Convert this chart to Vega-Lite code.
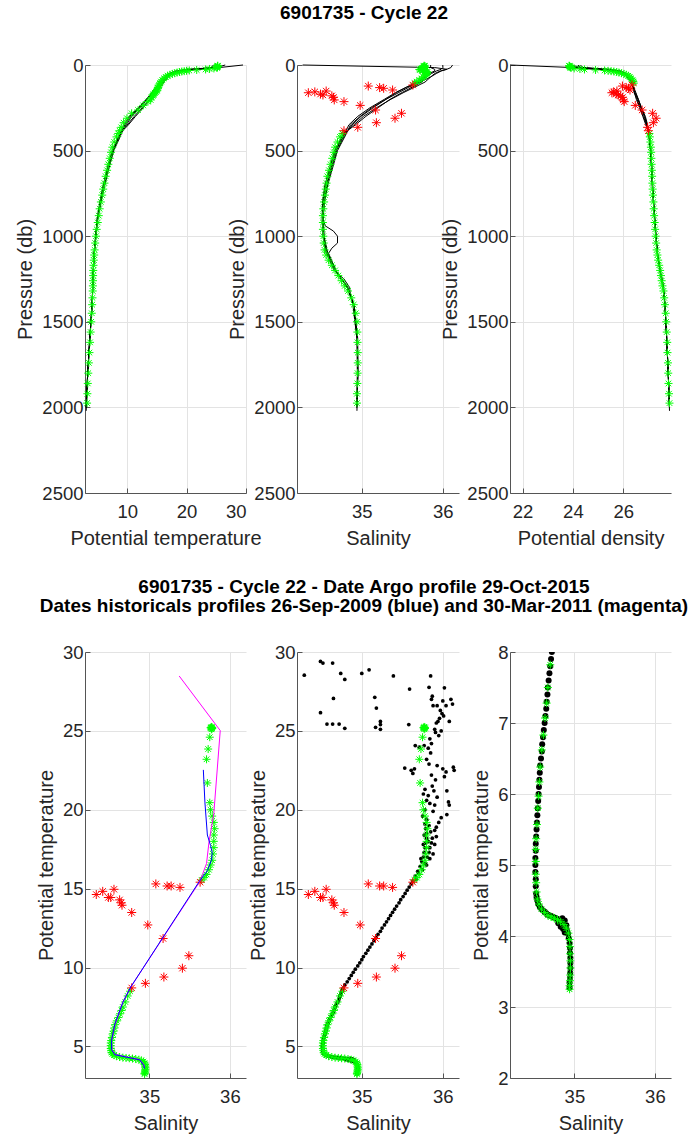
{
"$schema": "https://vega.github.io/schema/vega-lite/v6.json",
"background": "white",
"padding": {"left": 15, "top": 4, "right": 0, "bottom": 2},
"config": {
  "font": "Liberation Sans",
  "view": {"stroke": null},
  "axis": {"grid": true, "gridColor": "#e3e3e3", "domainColor": "#555555", "tickColor": "#555555", "labelColor": "#262626", "titleColor": "#262626", "labelFontSize": 18.5, "titleFontSize": 20, "titleFontWeight": "normal", "tickSize": -5, "labelPadding": 7, "titlePadding": 6, "labelFont": "Liberation Sans", "titleFont": "Liberation Sans"},
  "axisX": {"labelPadding": 14, "titlePadding": 8},
  "title": {"fontSize": 19, "font": "Liberation Sans", "fontWeight": "bold", "color": "black", "lineHeight": 19, "anchor": "middle"}
},
"datasets": {
  "argo": [
    {"p":4,"T":25.25,"S":35.77,"sig":23.85,"qc":"good"},
    {"p":6,"T":25.22,"S":35.78,"sig":23.86,"qc":"good"},
    {"p":8,"T":25.2,"S":35.77,"sig":23.87,"qc":"good"},
    {"p":10,"T":25.2,"S":35.76,"sig":23.88,"qc":"good"},
    {"p":12,"T":25.18,"S":35.77,"sig":23.9,"qc":"good"},
    {"p":14,"T":25.15,"S":35.78,"sig":23.9,"qc":"good"},
    {"p":16,"T":25.1,"S":35.77,"sig":23.93,"qc":"good"},
    {"p":20,"T":24.6,"S":35.75,"sig":24.05,"qc":"good"},
    {"p":23,"T":23.85,"S":35.73,"sig":24.28,"qc":"good"},
    {"p":26,"T":23.2,"S":35.71,"sig":24.46,"qc":"good"},
    {"p":29,"T":21.7,"S":35.72,"sig":24.9,"qc":"good"},
    {"p":32,"T":20.45,"S":35.75,"sig":25.26,"qc":"good"},
    {"p":34,"T":20.0,"S":35.76,"sig":25.4,"qc":"good"},
    {"p":36,"T":19.6,"S":35.78,"sig":25.52,"qc":"good"},
    {"p":38,"T":19.2,"S":35.8,"sig":25.63,"qc":"good"},
    {"p":41,"T":18.8,"S":35.81,"sig":25.74,"qc":"good"},
    {"p":44,"T":18.4,"S":35.8,"sig":25.83,"qc":"good"},
    {"p":48,"T":18.0,"S":35.8,"sig":25.93,"qc":"good"},
    {"p":52,"T":17.6,"S":35.8,"sig":26.03,"qc":"good"},
    {"p":57,"T":17.2,"S":35.79,"sig":26.12,"qc":"good"},
    {"p":63,"T":16.8,"S":35.78,"sig":26.2,"qc":"good"},
    {"p":70,"T":16.5,"S":35.76,"sig":26.26,"qc":"good"},
    {"p":78,"T":16.2,"S":35.74,"sig":26.32,"qc":"good"},
    {"p":88,"T":15.9,"S":35.71,"sig":26.37,"qc":"good"},
    {"p":97,"T":15.7,"S":35.68,"sig":26.4,"qc":"good"},
    {"p":106,"T":15.55,"S":35.65,"sig":26.42,"qc":"good"},
    {"p":117,"T":15.41,"S":35.63,"sig":26.35,"qc":"bad"},
    {"p":123,"T":15.3,"S":35.08,"sig":25.97,"qc":"bad"},
    {"p":132,"T":15.17,"S":35.22,"sig":26.12,"qc":"bad"},
    {"p":136,"T":15.17,"S":35.27,"sig":26.21,"qc":"bad"},
    {"p":146,"T":15.08,"S":35.38,"sig":26.27,"qc":"bad"},
    {"p":152,"T":14.96,"S":34.56,"sig":25.75,"qc":"bad"},
    {"p":157,"T":14.83,"S":34.42,"sig":25.62,"qc":"bad"},
    {"p":162,"T":14.63,"S":34.34,"sig":25.55,"qc":"bad"},
    {"p":170,"T":14.44,"S":34.49,"sig":25.72,"qc":"bad"},
    {"p":175,"T":14.44,"S":34.52,"sig":25.8,"qc":"bad"},
    {"p":180,"T":14.29,"S":34.63,"sig":25.9,"qc":"bad"},
    {"p":189,"T":14.1,"S":34.65,"sig":25.97,"qc":"bad"},
    {"p":204,"T":13.95,"S":34.66,"sig":26.0,"qc":"bad"},
    {"p":214,"T":13.49,"S":34.78,"sig":26.04,"qc":"bad"},
    {"p":236,"T":12.7,"S":34.98,"sig":26.48,"qc":"bad"},
    {"p":263,"T":11.84,"S":35.17,"sig":26.75,"qc":"bad"},
    {"p":282,"T":10.75,"S":35.49,"sig":27.17,"qc":"bad"},
    {"p":311,"T":9.96,"S":35.41,"sig":27.31,"qc":"bad"},
    {"p":337,"T":9.4,"S":35.18,"sig":27.2,"qc":"bad"},
    {"p":364,"T":9.0,"S":34.95,"sig":26.97,"qc":"bad"},
    {"p":384,"T":8.71,"S":34.78,"sig":27.0,"qc":"bad"},
    {"p":400,"T":8.5,"S":34.76,"sig":27.04,"qc":"good"},
    {"p":420,"T":8.2,"S":34.73,"sig":27.06,"qc":"good"},
    {"p":450,"T":7.82,"S":34.7,"sig":27.08,"qc":"good"},
    {"p":480,"T":7.5,"S":34.67,"sig":27.1,"qc":"good"},
    {"p":510,"T":7.28,"S":34.655,"sig":27.11,"qc":"good"},
    {"p":545,"T":7.07,"S":34.635,"sig":27.12,"qc":"good"},
    {"p":580,"T":6.83,"S":34.615,"sig":27.13,"qc":"good"},
    {"p":615,"T":6.62,"S":34.595,"sig":27.14,"qc":"good"},
    {"p":650,"T":6.38,"S":34.575,"sig":27.15,"qc":"good"},
    {"p":690,"T":6.17,"S":34.565,"sig":27.16,"qc":"good"},
    {"p":725,"T":5.97,"S":34.555,"sig":27.17,"qc":"good"},
    {"p":760,"T":5.8,"S":34.545,"sig":27.18,"qc":"good"},
    {"p":800,"T":5.57,"S":34.535,"sig":27.2,"qc":"good"},
    {"p":840,"T":5.37,"S":34.525,"sig":27.21,"qc":"good"},
    {"p":880,"T":5.22,"S":34.52,"sig":27.23,"qc":"good"},
    {"p":920,"T":5.05,"S":34.52,"sig":27.25,"qc":"good"},
    {"p":960,"T":4.87,"S":34.52,"sig":27.27,"qc":"good"},
    {"p":1000,"T":4.75,"S":34.525,"sig":27.29,"qc":"good"},
    {"p":1040,"T":4.62,"S":34.53,"sig":27.31,"qc":"good"},
    {"p":1080,"T":4.52,"S":34.54,"sig":27.33,"qc":"good"},
    {"p":1110,"T":4.45,"S":34.56,"sig":27.36,"qc":"good"},
    {"p":1140,"T":4.38,"S":34.59,"sig":27.39,"qc":"good"},
    {"p":1170,"T":4.33,"S":34.63,"sig":27.43,"qc":"good"},
    {"p":1200,"T":4.29,"S":34.67,"sig":27.47,"qc":"good"},
    {"p":1230,"T":4.27,"S":34.71,"sig":27.5,"qc":"good"},
    {"p":1260,"T":4.25,"S":34.75,"sig":27.53,"qc":"good"},
    {"p":1290,"T":4.23,"S":34.79,"sig":27.56,"qc":"good"},
    {"p":1320,"T":4.2,"S":34.83,"sig":27.6,"qc":"good"},
    {"p":1360,"T":4.16,"S":34.87,"sig":27.63,"qc":"good"},
    {"p":1400,"T":4.11,"S":34.9,"sig":27.66,"qc":"good"},
    {"p":1450,"T":4.04,"S":34.925,"sig":27.69,"qc":"good"},
    {"p":1500,"T":3.95,"S":34.94,"sig":27.71,"qc":"good"},
    {"p":1560,"T":3.85,"S":34.945,"sig":27.73,"qc":"good"},
    {"p":1620,"T":3.75,"S":34.947,"sig":27.75,"qc":"good"},
    {"p":1680,"T":3.65,"S":34.95,"sig":27.76,"qc":"good"},
    {"p":1740,"T":3.55,"S":34.95,"sig":27.78,"qc":"good"},
    {"p":1800,"T":3.45,"S":34.948,"sig":27.79,"qc":"good"},
    {"p":1860,"T":3.37,"S":34.945,"sig":27.8,"qc":"good"},
    {"p":1920,"T":3.3,"S":34.94,"sig":27.82,"qc":"good"},
    {"p":1975,"T":3.25,"S":34.94,"sig":27.84,"qc":"good"}
  ],
  "hp": [
    {"id":"h1","p":0,"T":29.5,"S":34.27,"sig":21.5},{"id":"h1","p":15,"T":25.5,"S":35.9,"sig":24.0},{"id":"h1","p":25,"T":22.0,"S":36.05,"sig":25.0},{"id":"h1","p":35,"T":19.0,"S":35.98,"sig":25.7},{"id":"h1","p":50,"T":17.5,"S":35.92,"sig":26.05},{"id":"h1","p":70,"T":16.6,"S":35.85,"sig":26.22},{"id":"h1","p":100,"T":15.8,"S":35.72,"sig":26.33},{"id":"h1","p":130,"T":15.0,"S":35.55,"sig":26.4},{"id":"h1","p":160,"T":14.3,"S":35.43,"sig":26.48},{"id":"h1","p":200,"T":13.3,"S":35.3,"sig":26.6},{"id":"h1","p":250,"T":12.0,"S":35.12,"sig":26.72},{"id":"h1","p":300,"T":10.6,"S":34.98,"sig":26.86},{"id":"h1","p":350,"T":9.6,"S":34.86,"sig":26.95},
    {"id":"h1","p":400,"T":9.05,"S":34.81,"sig":27.01},{"id":"h1","p":500,"T":7.75,"S":34.7,"sig":27.08},{"id":"h1","p":600,"T":6.95,"S":34.64,"sig":27.12},{"id":"h1","p":700,"T":6.25,"S":34.58,"sig":27.15},{"id":"h1","p":800,"T":5.6,"S":34.54,"sig":27.2},{"id":"h1","p":900,"T":5.05,"S":34.52,"sig":27.25},{"id":"h1","p":1000,"T":4.72,"S":34.53,"sig":27.3},{"id":"h1","p":1100,"T":4.46,"S":34.58,"sig":27.37},{"id":"h1","p":1200,"T":4.31,"S":34.68,"sig":27.47},{"id":"h1","p":1300,"T":4.2,"S":34.83,"sig":27.6},{"id":"h1","p":1400,"T":4.1,"S":34.9,"sig":27.66},{"id":"h1","p":1600,"T":3.72,"S":34.945,"sig":27.73},{"id":"h1","p":1800,"T":3.36,"S":34.95,"sig":27.79},{"id":"h1","p":2000,"T":3.12,"S":34.94,"sig":27.84},
    {"id":"h2","p":0,"T":26.5,"S":36.12,"sig":23.9},{"id":"h2","p":15,"T":25.0,"S":36.1,"sig":24.35},{"id":"h2","p":25,"T":21.0,"S":36.05,"sig":25.3},{"id":"h2","p":35,"T":18.8,"S":35.97,"sig":25.8},{"id":"h2","p":50,"T":17.4,"S":35.9,"sig":26.06},{"id":"h2","p":70,"T":16.7,"S":35.85,"sig":26.2},{"id":"h2","p":100,"T":16.0,"S":35.78,"sig":26.33},{"id":"h2","p":130,"T":15.4,"S":35.65,"sig":26.4},{"id":"h2","p":160,"T":14.8,"S":35.52,"sig":26.43},{"id":"h2","p":200,"T":13.8,"S":35.36,"sig":26.55},{"id":"h2","p":250,"T":12.5,"S":35.18,"sig":26.67},{"id":"h2","p":300,"T":11.2,"S":35.02,"sig":26.8},{"id":"h2","p":350,"T":10.0,"S":34.9,"sig":26.93},
    {"id":"h2","p":400,"T":8.8,"S":34.78,"sig":27.03},{"id":"h2","p":500,"T":7.5,"S":34.67,"sig":27.1},{"id":"h2","p":600,"T":6.7,"S":34.61,"sig":27.14},{"id":"h2","p":700,"T":6.0,"S":34.55,"sig":27.17},{"id":"h2","p":800,"T":5.45,"S":34.52,"sig":27.21},{"id":"h2","p":900,"T":4.95,"S":34.52,"sig":27.26},{"id":"h2","p":940,"T":4.87,"S":34.55,"sig":27.27},{"id":"h2","p":970,"T":4.82,"S":34.65,"sig":27.29},{"id":"h2","p":1000,"T":4.76,"S":34.7,"sig":27.3},{"id":"h2","p":1040,"T":4.64,"S":34.7,"sig":27.32},{"id":"h2","p":1070,"T":4.53,"S":34.63,"sig":27.34},{"id":"h2","p":1100,"T":4.44,"S":34.59,"sig":27.36},{"id":"h2","p":1200,"T":4.28,"S":34.68,"sig":27.46},{"id":"h2","p":1300,"T":4.19,"S":34.82,"sig":27.59},{"id":"h2","p":1400,"T":4.09,"S":34.9,"sig":27.66},{"id":"h2","p":1600,"T":3.7,"S":34.945,"sig":27.73},{"id":"h2","p":1800,"T":3.35,"S":34.95,"sig":27.79},{"id":"h2","p":2000,"T":3.1,"S":34.94,"sig":27.84},
    {"id":"h3","p":0,"T":25.5,"S":36.0,"sig":24.2},{"id":"h3","p":15,"T":25.0,"S":36.0,"sig":24.3},{"id":"h3","p":25,"T":20.0,"S":35.98,"sig":25.5},{"id":"h3","p":35,"T":18.2,"S":35.92,"sig":25.9},{"id":"h3","p":50,"T":17.0,"S":35.86,"sig":26.12},{"id":"h3","p":70,"T":16.3,"S":35.8,"sig":26.25},{"id":"h3","p":100,"T":15.6,"S":35.68,"sig":26.35},{"id":"h3","p":130,"T":14.9,"S":35.55,"sig":26.42},{"id":"h3","p":160,"T":14.2,"S":35.42,"sig":26.5},{"id":"h3","p":200,"T":13.2,"S":35.28,"sig":26.6},{"id":"h3","p":250,"T":11.9,"S":35.1,"sig":26.73},{"id":"h3","p":300,"T":10.4,"S":34.95,"sig":26.88},{"id":"h3","p":350,"T":9.4,"S":34.84,"sig":26.97},
    {"id":"h3","p":400,"T":8.9,"S":34.79,"sig":27.02},{"id":"h3","p":500,"T":7.6,"S":34.68,"sig":27.09},{"id":"h3","p":600,"T":6.8,"S":34.62,"sig":27.13},{"id":"h3","p":700,"T":6.1,"S":34.56,"sig":27.16},{"id":"h3","p":800,"T":5.5,"S":34.53,"sig":27.2},{"id":"h3","p":900,"T":5.0,"S":34.52,"sig":27.25},{"id":"h3","p":1000,"T":4.7,"S":34.53,"sig":27.3},{"id":"h3","p":1100,"T":4.45,"S":34.57,"sig":27.36},{"id":"h3","p":1200,"T":4.3,"S":34.67,"sig":27.46},{"id":"h3","p":1300,"T":4.2,"S":34.82,"sig":27.59},{"id":"h3","p":1400,"T":4.1,"S":34.9,"sig":27.66},{"id":"h3","p":1600,"T":3.7,"S":34.945,"sig":27.73},{"id":"h3","p":1800,"T":3.35,"S":34.95,"sig":27.79},{"id":"h3","p":2020,"T":3.1,"S":34.94,"sig":27.84},
    {"id":"h4","p":0,"T":25.8,"S":35.85,"sig":24.0},{"id":"h4","p":15,"T":25.3,"S":35.85,"sig":24.1},{"id":"h4","p":25,"T":22.0,"S":35.9,"sig":24.9},{"id":"h4","p":35,"T":19.0,"S":35.9,"sig":25.7},{"id":"h4","p":50,"T":17.6,"S":35.83,"sig":26.0},{"id":"h4","p":70,"T":16.9,"S":35.78,"sig":26.15},{"id":"h4","p":100,"T":16.2,"S":35.74,"sig":26.3},{"id":"h4","p":130,"T":15.5,"S":35.62,"sig":26.38},{"id":"h4","p":160,"T":14.9,"S":35.5,"sig":26.45},{"id":"h4","p":200,"T":13.9,"S":35.35,"sig":26.52},{"id":"h4","p":250,"T":12.7,"S":35.2,"sig":26.65},{"id":"h4","p":300,"T":11.4,"S":35.05,"sig":26.78},{"id":"h4","p":350,"T":10.2,"S":34.92,"sig":26.9},
    {"id":"h4","p":400,"T":8.8,"S":34.775,"sig":27.04},{"id":"h4","p":500,"T":7.5,"S":34.665,"sig":27.1},{"id":"h4","p":600,"T":6.7,"S":34.605,"sig":27.14},{"id":"h4","p":700,"T":6.0,"S":34.545,"sig":27.17},{"id":"h4","p":800,"T":5.4,"S":34.515,"sig":27.21},{"id":"h4","p":900,"T":4.95,"S":34.51,"sig":27.25},{"id":"h4","p":1000,"T":4.68,"S":34.52,"sig":27.3},{"id":"h4","p":1100,"T":4.44,"S":34.56,"sig":27.36},{"id":"h4","p":1200,"T":4.29,"S":34.66,"sig":27.46},{"id":"h4","p":1250,"T":4.25,"S":34.78,"sig":27.55},{"id":"h4","p":1300,"T":4.2,"S":34.85,"sig":27.61},{"id":"h4","p":1350,"T":4.15,"S":34.86,"sig":27.63},{"id":"h4","p":1400,"T":4.1,"S":34.89,"sig":27.66},{"id":"h4","p":1600,"T":3.7,"S":34.94,"sig":27.73},{"id":"h4","p":1800,"T":3.35,"S":34.945,"sig":27.79},{"id":"h4","p":2000,"T":3.1,"S":34.935,"sig":27.84},
    {"id":"h5","p":0,"T":24.5,"S":35.8,"sig":24.3},{"id":"h5","p":15,"T":24.2,"S":35.8,"sig":24.4},{"id":"h5","p":25,"T":21.5,"S":35.8,"sig":25.1},{"id":"h5","p":35,"T":18.5,"S":35.82,"sig":25.8},{"id":"h5","p":50,"T":17.2,"S":35.8,"sig":26.05},{"id":"h5","p":70,"T":16.4,"S":35.76,"sig":26.2},{"id":"h5","p":100,"T":15.7,"S":35.7,"sig":26.33},{"id":"h5","p":130,"T":15.1,"S":35.58,"sig":26.4},{"id":"h5","p":160,"T":14.4,"S":35.46,"sig":26.46},{"id":"h5","p":200,"T":13.4,"S":35.3,"sig":26.58},{"id":"h5","p":250,"T":12.2,"S":35.14,"sig":26.7},{"id":"h5","p":300,"T":10.8,"S":34.99,"sig":26.84},{"id":"h5","p":350,"T":9.8,"S":34.88,"sig":26.94},
    {"id":"h5","p":400,"T":8.95,"S":34.8,"sig":27.02},{"id":"h5","p":500,"T":7.65,"S":34.69,"sig":27.09},{"id":"h5","p":600,"T":6.85,"S":34.63,"sig":27.13},{"id":"h5","p":700,"T":6.15,"S":34.57,"sig":27.16},{"id":"h5","p":800,"T":5.55,"S":34.535,"sig":27.2},{"id":"h5","p":900,"T":5.02,"S":34.525,"sig":27.25},{"id":"h5","p":1000,"T":4.71,"S":34.535,"sig":27.3},{"id":"h5","p":1100,"T":4.46,"S":34.575,"sig":27.36},{"id":"h5","p":1200,"T":4.3,"S":34.675,"sig":27.46},{"id":"h5","p":1300,"T":4.2,"S":34.825,"sig":27.59},{"id":"h5","p":1400,"T":4.1,"S":34.905,"sig":27.66},{"id":"h5","p":1600,"T":3.71,"S":34.95,"sig":27.73},{"id":"h5","p":1800,"T":3.36,"S":34.952,"sig":27.79},{"id":"h5","p":1980,"T":3.12,"S":34.942,"sig":27.84}
  ],
  "blue": [
    {"o":1,"S":35.67,"T":22.53},{"o":2,"S":35.69,"T":20.44},{"o":3,"S":35.72,"T":18.4},{"o":4,"S":35.76,"T":17.73},{"o":5,"S":35.78,"T":17.28},{"o":6,"S":35.77,"T":16.8},{"o":7,"S":35.72,"T":16.14},{"o":8,"S":35.62,"T":15.46},{"o":12,"S":34.77,"T":8.78},{"o":13,"S":34.67,"T":7.8},{"o":14,"S":34.57,"T":6.4},{"o":15,"S":34.53,"T":5.39},{"o":16,"S":34.53,"T":4.8},{"o":17,"S":34.57,"T":4.48},{"o":18,"S":34.71,"T":4.33},{"o":19,"S":34.88,"T":4.15},{"o":20,"S":34.93,"T":3.8},{"o":21,"S":34.94,"T":3.6}
  ],
  "magenta": [
    {"o":1,"S":35.37,"T":28.48},{"o":2,"S":35.88,"T":25.02},{"o":3,"S":35.8,"T":19.76},{"o":4,"S":35.74,"T":17.95},{"o":5,"S":35.71,"T":16.6},{"o":6,"S":35.66,"T":15.9},{"o":7,"S":35.62,"T":15.4},{"o":11,"S":34.77,"T":8.78},{"o":12,"S":34.67,"T":7.8},{"o":13,"S":34.575,"T":6.4},{"o":14,"S":34.53,"T":5.4},{"o":15,"S":34.535,"T":4.8},{"o":16,"S":34.57,"T":4.5},{"o":17,"S":34.72,"T":4.33},{"o":18,"S":34.88,"T":4.16},{"o":19,"S":34.93,"T":3.85},{"o":20,"S":34.94,"T":3.65}
  ],
  "hist": [
    {"S":34.29,"T":28.53},{"S":34.49,"T":29.4},{"S":34.52,"T":29.3},{"S":34.64,"T":29.3},{"S":34.74,"T":28.64},{"S":34.79,"T":28.26},{"S":34.65,"T":27.06},{"S":34.49,"T":26.15},{"S":34.57,"T":25.43},{"S":34.64,"T":25.43},{"S":34.72,"T":25.43},{"S":34.79,"T":25.16},{"S":35.0,"T":28.64},{"S":35.09,"T":28.87},{"S":35.16,"T":27.13},{"S":35.18,"T":26.45},{"S":35.23,"T":25.6},{"S":35.23,"T":25.4},{"S":35.23,"T":25.1},{"S":35.17,"T":25.23},{"S":35.39,"T":28.48},{"S":35.59,"T":27.65},{"S":35.58,"T":25.4},{"S":35.53,"T":22.64},{"S":35.61,"T":22.5},{"S":35.63,"T":22.3},{"S":35.65,"T":22.6},{"S":35.66,"T":24.07},{"S":35.71,"T":23.97},{"S":35.77,"T":24.07},{"S":35.85,"T":28.48},{"S":35.83,"T":27.76},{"S":35.87,"T":27.2},{"S":35.86,"T":27.0},{"S":35.93,"T":26.6},{"S":36.02,"T":27.73},{"S":36.1,"T":27.0},{"S":36.12,"T":26.7},{"S":36.08,"T":25.6},{"S":35.97,"T":26.3},{"S":35.99,"T":26.1},{"S":36.01,"T":25.95},{"S":35.96,"T":25.8},{"S":35.94,"T":25.6},{"S":35.9,"T":25.1},{"S":35.91,"T":24.9},{"S":35.84,"T":24.5},{"S":35.86,"T":24.2},{"S":35.82,"T":23.9},{"S":35.85,"T":23.6},{"S":36.0,"T":22.6},{"S":36.04,"T":22.4},{"S":36.02,"T":22.1},{"S":36.13,"T":22.7},{"S":36.14,"T":22.5},{"S":35.93,"T":22.8},{"S":35.91,"T":21.9},{"S":35.89,"T":21.2},{"S":35.93,"T":20.8},{"S":36.05,"T":21.2},{"S":36.07,"T":20.5},{"S":36.08,"T":20.3},{"S":36.05,"T":19.7},{"S":35.98,"T":19.5},{"S":35.95,"T":19.2},{"S":35.92,"T":18.9},{"S":35.9,"T":18.7},{"S":35.86,"T":22.2},{"S":35.87,"T":21.5},{"S":35.9,"T":20.3},{"S":35.88,"T":19.9},{"S":35.95,"T":24.7},{"S":35.98,"T":25.0},{"S":35.88,"T":26.6},{"S":35.92,"T":25.5},{"S":36.04,"T":26.6},{"S":36.0,"T":26.9},{"S":35.78,"T":21.3},{"S":35.82,"T":20.9},{"S":35.84,"T":20.4},{"S":35.8,"T":23.2},{"S":35.83,"T":22.9},
    {"S":35.63,"T":15.5},{"S":35.66,"T":15.8},{"S":35.69,"T":16.1},{"S":35.72,"T":16.4},{"S":35.74,"T":16.7},{"S":35.76,"T":17.0},{"S":35.77,"T":17.3},{"S":35.78,"T":17.6},{"S":35.79,"T":17.9},{"S":35.8,"T":18.2},{"S":35.8,"T":18.5},{"S":35.79,"T":18.8},{"S":35.78,"T":19.1},{"S":35.75,"T":16.2},{"S":35.78,"T":16.6},{"S":35.81,"T":17.0},{"S":35.83,"T":17.3},{"S":35.84,"T":17.6},{"S":35.86,"T":17.9},{"S":35.87,"T":18.2},{"S":35.85,"T":18.6},{"S":35.83,"T":19.0},{"S":35.8,"T":19.4},{"S":35.9,"T":17.8},{"S":35.92,"T":18.3},{"S":35.88,"T":17.2},{"S":35.7,"T":16.0},{"S":35.73,"T":16.9},{"S":35.76,"T":17.8},{"S":35.77,"T":18.4},{"S":35.82,"T":18.0},{"S":35.84,"T":16.9},{"S":35.8,"T":16.5},{"S":35.67,"T":15.6},{"S":35.75,"T":19.6},{"S":35.78,"T":20.0},{"S":35.8,"T":20.6},{"S":35.76,"T":21.0},
    {"S":34.77,"T":8.7},{"S":34.79,"T":8.9},{"S":34.82,"T":9.1},{"S":34.845,"T":9.3},{"S":34.87,"T":9.5},{"S":34.895,"T":9.7},{"S":34.92,"T":9.9},{"S":34.95,"T":10.1},{"S":34.975,"T":10.3},{"S":35.0,"T":10.5},{"S":35.02,"T":10.7},{"S":35.05,"T":10.9},{"S":35.075,"T":11.1},{"S":35.1,"T":11.3},{"S":35.125,"T":11.5},{"S":35.15,"T":11.7},{"S":35.175,"T":11.9},{"S":35.2,"T":12.1},{"S":35.23,"T":12.3},{"S":35.25,"T":12.5},{"S":35.28,"T":12.7},{"S":35.305,"T":12.9},{"S":35.33,"T":13.1},{"S":35.355,"T":13.3},{"S":35.38,"T":13.5},{"S":35.405,"T":13.7},{"S":35.43,"T":13.9},{"S":35.46,"T":14.1},{"S":35.48,"T":14.3},{"S":35.51,"T":14.5},{"S":35.535,"T":14.7},{"S":35.56,"T":14.9},{"S":35.585,"T":15.1},{"S":35.61,"T":15.3},
    {"S":34.76,"T":8.6},{"S":34.755,"T":8.5},{"S":34.745,"T":8.4},{"S":34.74,"T":8.3},{"S":34.73,"T":8.2},{"S":34.725,"T":8.1},{"S":34.72,"T":8.0},{"S":34.71,"T":7.9},{"S":34.7,"T":7.8},{"S":34.69,"T":7.7},{"S":34.68,"T":7.6},{"S":34.67,"T":7.5},{"S":34.665,"T":7.4},{"S":34.655,"T":7.3},{"S":34.65,"T":7.2},{"S":34.64,"T":7.1},{"S":34.63,"T":7.0},{"S":34.62,"T":6.9},{"S":34.61,"T":6.8},{"S":34.6,"T":6.7},{"S":34.595,"T":6.6},{"S":34.585,"T":6.5},{"S":34.575,"T":6.4},{"S":34.57,"T":6.3},{"S":34.565,"T":6.2},{"S":34.56,"T":6.1},{"S":34.555,"T":6.0},{"S":34.55,"T":5.9},{"S":34.545,"T":5.8},{"S":34.54,"T":5.7},{"S":34.535,"T":5.6},{"S":34.53,"T":5.5},{"S":34.525,"T":5.4},{"S":34.52,"T":5.3},{"S":34.52,"T":5.2},{"S":34.515,"T":5.1},{"S":34.515,"T":5.0},{"S":34.515,"T":4.9},{"S":34.52,"T":4.8},{"S":34.52,"T":4.7},{"S":34.525,"T":4.6},{"S":34.53,"T":4.55},{"S":34.54,"T":4.5},{"S":34.55,"T":4.45},
    {"S":34.57,"T":4.41},{"S":34.59,"T":4.38},{"S":34.61,"T":4.36},{"S":34.63,"T":4.34},{"S":34.65,"T":4.32},{"S":34.67,"T":4.3},{"S":34.69,"T":4.29},{"S":34.71,"T":4.28},{"S":34.73,"T":4.27},{"S":34.75,"T":4.26},{"S":34.77,"T":4.25},{"S":34.79,"T":4.24},{"S":34.81,"T":4.22},{"S":34.83,"T":4.2},{"S":34.85,"T":4.18},{"S":34.87,"T":4.15},{"S":34.89,"T":4.12},{"S":34.905,"T":4.08},{"S":34.92,"T":4.03},
    {"S":34.85,"T":4.25},{"S":34.88,"T":4.22},{"S":34.9,"T":4.15},{"S":34.86,"T":4.1},{"S":34.83,"T":4.13},{"S":34.8,"T":4.18},{"S":34.88,"T":4.05},
    {"S":34.93,"T":3.97},{"S":34.94,"T":3.9},{"S":34.945,"T":3.83},{"S":34.945,"T":3.76},{"S":34.95,"T":3.69},{"S":34.95,"T":3.62},{"S":34.95,"T":3.55},{"S":34.948,"T":3.48},{"S":34.945,"T":3.41},{"S":34.94,"T":3.34},{"S":34.94,"T":3.27}
  ]
},
"bounds": "flush",
"columns": 3,
"spacing": {"row": 159, "column": 51},
"concat": [
  {
    "width": 161, "height": 428,
    "encoding": {
      "x": {"field": "T", "type": "quantitative", "scale": {"domain": [2.9, 30], "nice": false, "zero": false}, "axis": {"values": [10, 20, 30], "title": "Potential temperature"}},
      "y": {"field": "p", "type": "quantitative", "scale": {"domain": [0, 2500], "reverse": true, "nice": false, "zero": false}, "axis": {"values": [0, 500, 1000, 1500, 2000, 2500], "format": "d", "title": "Pressure (db)"}}
    },
    "layer": [
      {"data": {"name": "hp"}, "mark": {"type": "line", "color": "black", "strokeWidth": 1}, "encoding": {"detail": {"field": "id"}, "order": {"field": "p", "type": "quantitative"}}},
      {"data": {"name": "argo"}, "mark": {"type": "point", "shape": "M-1,0L1,0M0,-1L0,1M-0.7,-0.7L0.7,0.7M-0.7,0.7L0.7,-0.7", "filled": false, "stroke": "#00ff00", "strokeWidth": 1, "size": 64, "opacity": 1}}
    ]
  },
  {
    "width": 162, "height": 428,
    "title": {"text": "6901735 - Cycle 22", "dx": -14, "offset": 33},
    "encoding": {
      "x": {"field": "S", "type": "quantitative", "scale": {"domain": [34.2, 36.2], "nice": false, "zero": false}, "axis": {"values": [35, 36], "title": "Salinity"}},
      "y": {"field": "p", "type": "quantitative", "scale": {"domain": [0, 2500], "reverse": true, "nice": false, "zero": false}, "axis": {"values": [0, 500, 1000, 1500, 2000, 2500], "format": "d", "title": "Pressure (db)"}}
    },
    "layer": [
      {"data": {"name": "hp"}, "mark": {"type": "line", "color": "black", "strokeWidth": 1}, "encoding": {"detail": {"field": "id"}, "order": {"field": "p", "type": "quantitative"}}},
      {"data": {"name": "argo"}, "transform": [{"filter": "datum.qc == 'good'"}], "mark": {"type": "point", "shape": "M-1,0L1,0M0,-1L0,1M-0.7,-0.7L0.7,0.7M-0.7,0.7L0.7,-0.7", "filled": false, "stroke": "#00ff00", "strokeWidth": 1, "size": 64, "opacity": 1}},
      {"data": {"name": "argo"}, "transform": [{"filter": "datum.qc == 'bad'"}], "mark": {"type": "point", "shape": "M-1,0L1,0M0,-1L0,1M-0.7,-0.7L0.7,0.7M-0.7,0.7L0.7,-0.7", "filled": false, "stroke": "#ff0000", "strokeWidth": 1, "size": 81, "opacity": 1}}
    ]
  },
  {
    "width": 161, "height": 428,
    "encoding": {
      "x": {"field": "sig", "type": "quantitative", "scale": {"domain": [21.5, 27.9], "nice": false, "zero": false}, "axis": {"values": [22, 24, 26], "title": "Potential density"}},
      "y": {"field": "p", "type": "quantitative", "scale": {"domain": [0, 2500], "reverse": true, "nice": false, "zero": false}, "axis": {"values": [0, 500, 1000, 1500, 2000, 2500], "format": "d", "title": "Pressure (db)"}}
    },
    "layer": [
      {"data": {"name": "hp"}, "mark": {"type": "line", "color": "black", "strokeWidth": 1}, "encoding": {"detail": {"field": "id"}, "order": {"field": "p", "type": "quantitative"}}},
      {"data": {"name": "argo"}, "transform": [{"filter": "datum.qc == 'good'"}], "mark": {"type": "point", "shape": "M-1,0L1,0M0,-1L0,1M-0.7,-0.7L0.7,0.7M-0.7,0.7L0.7,-0.7", "filled": false, "stroke": "#00ff00", "strokeWidth": 1, "size": 64, "opacity": 1}},
      {"data": {"name": "argo"}, "transform": [{"filter": "datum.qc == 'bad'"}], "mark": {"type": "point", "shape": "M-1,0L1,0M0,-1L0,1M-0.7,-0.7L0.7,0.7M-0.7,0.7L0.7,-0.7", "filled": false, "stroke": "#ff0000", "strokeWidth": 1, "size": 81, "opacity": 1}}
    ]
  },
  {
    "width": 161, "height": 426,
    "encoding": {
      "x": {"field": "S", "type": "quantitative", "scale": {"domain": [34.2, 36.2], "nice": false, "zero": false}, "axis": {"values": [35, 36], "title": "Salinity"}},
      "y": {"field": "T", "type": "quantitative", "scale": {"domain": [3, 30], "nice": false, "zero": false}, "axis": {"values": [5, 10, 15, 20, 25, 30], "title": "Potential temperature"}}
    },
    "layer": [
      {"data": {"name": "argo"}, "transform": [{"filter": "datum.qc == 'good'"}], "mark": {"type": "point", "shape": "M-1,0L1,0M0,-1L0,1M-0.7,-0.7L0.7,0.7M-0.7,0.7L0.7,-0.7", "filled": false, "stroke": "#00ff00", "strokeWidth": 1, "size": 64, "opacity": 1}},
      {"data": {"name": "argo"}, "transform": [{"filter": "datum.qc == 'bad'"}], "mark": {"type": "point", "shape": "M-1,0L1,0M0,-1L0,1M-0.7,-0.7L0.7,0.7M-0.7,0.7L0.7,-0.7", "filled": false, "stroke": "#ff0000", "strokeWidth": 1, "size": 81, "opacity": 1}},
      {"data": {"name": "magenta"}, "mark": {"type": "line", "color": "#ff00ff", "strokeWidth": 1}, "encoding": {"order": {"field": "o", "type": "quantitative"}}},
      {"data": {"name": "blue"}, "mark": {"type": "line", "color": "#0000ff", "strokeWidth": 1}, "encoding": {"order": {"field": "o", "type": "quantitative"}}}
    ]
  },
  {
    "width": 162, "height": 426,
    "title": {"text": ["6901735 - Cycle 22 - Date Argo profile 29-Oct-2015", "Dates historicals profiles 26-Sep-2009 (blue) and 30-Mar-2011 (magenta)"], "dx": -14, "offset": 27},
    "encoding": {
      "x": {"field": "S", "type": "quantitative", "scale": {"domain": [34.2, 36.2], "nice": false, "zero": false}, "axis": {"values": [35, 36], "title": "Salinity"}},
      "y": {"field": "T", "type": "quantitative", "scale": {"domain": [3, 30], "nice": false, "zero": false}, "axis": {"values": [5, 10, 15, 20, 25, 30], "title": "Potential temperature"}}
    },
    "layer": [
      {"data": {"name": "hist"}, "mark": {"type": "circle", "color": "black", "size": 14, "opacity": 1}},
      {"data": {"name": "argo"}, "transform": [{"filter": "datum.qc == 'good'"}], "mark": {"type": "point", "shape": "M-1,0L1,0M0,-1L0,1M-0.7,-0.7L0.7,0.7M-0.7,0.7L0.7,-0.7", "filled": false, "stroke": "#00ff00", "strokeWidth": 1, "size": 64, "opacity": 1}},
      {"data": {"name": "argo"}, "transform": [{"filter": "datum.qc == 'bad'"}], "mark": {"type": "point", "shape": "M-1,0L1,0M0,-1L0,1M-0.7,-0.7L0.7,0.7M-0.7,0.7L0.7,-0.7", "filled": false, "stroke": "#ff0000", "strokeWidth": 1, "size": 81, "opacity": 1}}
    ]
  },
  {
    "width": 161, "height": 426,
    "encoding": {
      "x": {"field": "S", "type": "quantitative", "scale": {"domain": [34.2, 36.2], "nice": false, "zero": false}, "axis": {"values": [35, 36], "title": "Salinity"}},
      "y": {"field": "T", "type": "quantitative", "scale": {"domain": [2, 8], "nice": false, "zero": false}, "axis": {"values": [2, 3, 4, 5, 6, 7, 8], "title": "Potential temperature"}}
    },
    "layer": [
      {"data": {"name": "hist"}, "mark": {"type": "circle", "color": "black", "size": 36, "opacity": 1, "clip": true}},
      {"data": {"name": "argo"}, "transform": [{"filter": "datum.qc == 'good'"}], "mark": {"type": "point", "clip": true, "shape": "M-1,0L1,0M0,-1L0,1M-0.7,-0.7L0.7,0.7M-0.7,0.7L0.7,-0.7", "filled": false, "stroke": "#00ff00", "strokeWidth": 1, "size": 64, "opacity": 1}}
    ]
  }
]
}
